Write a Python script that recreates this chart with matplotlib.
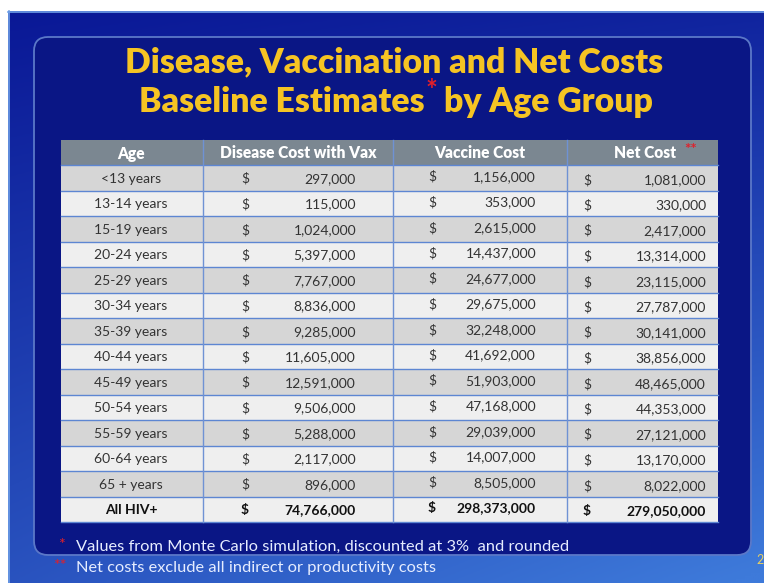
import numpy as np
import matplotlib.pyplot as plt
from matplotlib.patches import Rectangle, FancyBboxPatch

plt.rcParams['font.family'] = ['Lato', 'DejaVu Sans']

# table data
ages = ["<13 years", "13-14 years", "15-19 years", "20-24 years", "25-29 years",
        "30-34 years", "35-39 years", "40-44 years", "45-49 years", "50-54 years",
        "55-59 years", "60-64 years", "65 + years", "All HIV+"]
disease_cost = [297000, 115000, 1024000, 5397000, 7767000, 8836000, 9285000,
                11605000, 12591000, 9506000, 5288000, 2117000, 896000, 74766000]
vaccine_cost = [1156000, 353000, 2615000, 14437000, 24677000, 29675000, 32248000,
                41692000, 51903000, 47168000, 29039000, 14007000, 8505000, 298373000]
net_cost = [1081000, 330000, 2417000, 13314000, 23115000, 27787000, 30141000,
            38856000, 48465000, 44353000, 27121000, 13170000, 8022000, 279050000]
headers = ["Age", "Disease Cost with Vax", "Vaccine Cost", "Net Cost"]

fig = plt.figure(figsize=(7.64, 5.83), dpi=100)
ax = fig.add_axes([0, 0, 1, 1])
ax.set_xlim(0, 764)
ax.set_ylim(583, 0)
ax.axis('off')

# slide background gradient
yy, xx = np.mgrid[0:1:200j, 0:1:260j]
t = np.clip(0.6 * yy + 0.3 * xx * yy + 0.12 * xx, 0, 1)
c0 = np.array([10, 24, 150]) / 255
c1 = np.array([62, 122, 218]) / 255
img = c0 + (c1 - c0) * t[..., None]
ax.imshow(img, extent=[8, 764, 583, 11], aspect='auto', zorder=0)
ax.plot([8, 764], [11.5, 11.5], color='#6fa0e8', lw=1.2, zorder=1)
ax.plot([8.5, 8.5], [11, 583], color='#6fa0e8', lw=1.2, zorder=1)

# inner panel
panel = FancyBboxPatch((34, 37), 717, 518, boxstyle="round,pad=0,rounding_size=14",
                       facecolor='#0a1685', edgecolor='#5b78c8', lw=1.3, zorder=2)
ax.add_patch(panel)

# title
gold = '#f6c423'
tkw = dict(fontsize=24.3, fontweight='heavy', color=gold, zorder=5, va='center')
ax.text(394, 62, "Disease, Vaccination and Net Costs", ha='center', **tkw)

# second title line, centred as a whole
fig.canvas.draw()
r = fig.canvas.get_renderer()
p1 = ax.text(0, 102, "Baseline Estimates", ha='left', **tkw)
p3 = ax.text(0, 102, "by Age Group", ha='left', **tkw)
w1 = p1.get_window_extent(r).width
w3 = p3.get_window_extent(r).width
gap_star = 14
total = w1 + gap_star + 6 + w3
x0 = 396 - total / 2
p1.set_x(x0)
ax.text(x0 + w1 + 1, 91, "*", ha='left', va='center', fontsize=20,
        fontweight='bold', color='#e0202a', zorder=5)
p3.set_x(x0 + w1 + gap_star + 6)

# table layout
left, right = 61, 718
col_x = [61, 203, 393, 567, 718]
top = 140
head_h = 25
row_h = 25.5

ax.add_patch(Rectangle((left, top), right - left, head_h, facecolor='#7b8791',
                       edgecolor='none', zorder=3))
head_cx = [131, 298, 480, 645]
for cx, h in zip(head_cx, headers):
    ax.text(cx, top + head_h / 2 + 1, h, ha='center', va='center', fontsize=11.2,
            fontweight='heavy', color='white', zorder=5)
ax.text(684, top + head_h / 2 - 2, "**", ha='left', va='center', fontsize=11,
        fontweight='bold', color='#e0202a', zorder=5)

def fmt(v):
    return f"{v:,}"

for i, age in enumerate(ages):
    y0 = top + head_h + i * row_h
    fc = '#d6d6d6' if i % 2 == 0 else '#efefef'
    ax.add_patch(Rectangle((left, y0), right - left, row_h, facecolor=fc,
                           edgecolor='none', zorder=3))
    ax.plot([left, right], [y0, y0], color='#5d86d2', lw=1.0, zorder=4)
    cy = y0 + row_h / 2
    bold = 'bold' if i == len(ages) - 1 else 'normal'
    tc = '#111111' if bold == 'bold' else '#333333'
    ax.text(131, cy + 1, age, ha='center', va='center', fontsize=10,
            fontweight=bold, color=tc, zorder=5)
    ax.text(245, cy + 1, "$", ha='center', va='center', fontsize=10,
            fontweight=bold, color=tc, zorder=5)
    ax.text(356, cy + 1, fmt(disease_cost[i]), ha='right', va='center', fontsize=10,
            fontweight=bold, color=tc, zorder=5)
    ax.text(432, cy - 1, "$", ha='center', va='center', fontsize=10,
            fontweight=bold, color=tc, zorder=5)
    ax.text(536, cy - 1, fmt(vaccine_cost[i]), ha='right', va='center', fontsize=10,
            fontweight=bold, color=tc, zorder=5)
    ax.text(587, cy + 2, "$", ha='center', va='center', fontsize=10,
            fontweight=bold, color=tc, zorder=5)
    ax.text(706, cy + 2, fmt(net_cost[i]), ha='right', va='center', fontsize=10,
            fontweight=bold, color=tc, zorder=5)

bottom = top + head_h + len(ages) * row_h
ax.plot([left, right], [bottom, bottom], color='#5d86d2', lw=1.0, zorder=4)
for x in col_x[1:-1]:
    ax.plot([x, x], [top, bottom], color='#6f92d4', lw=1.0, zorder=4)

# footnotes
ax.text(58, 545, "*", ha='left', va='center', fontsize=11.5, color='#e0202a', zorder=5)
ax.text(76, 547, "Values from Monte Carlo simulation, discounted at 3%  and rounded",
        ha='left', va='center', fontsize=11.8, color='#e6edff', zorder=5)
ax.text(53, 566, "**", ha='left', va='center', fontsize=11.5, color='#e0202a', zorder=5)
ax.text(76, 568, "Net costs exclude all indirect or productivity costs",
        ha='left', va='center', fontsize=11.8, color='#e6edff', zorder=5)
ax.text(756, 560, "2", ha='left', va='center', fontsize=9, color='#e8d060', zorder=5)

fig.savefig("out.png", dpi=100)
